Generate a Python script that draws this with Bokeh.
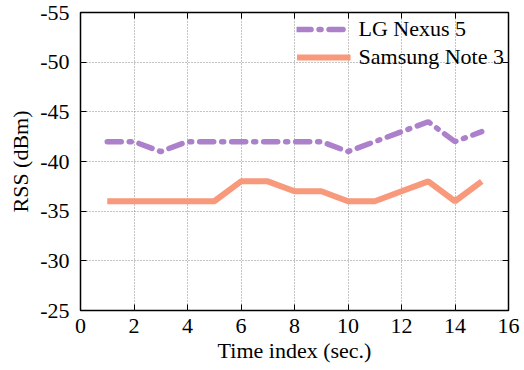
from bokeh.plotting import figure
from bokeh.models import Range1d, LinearAxis, FixedTicker, Legend, LegendItem
from bokeh.embed import file_html
from bokeh.resources import INLINE

time_idx = [1, 2, 3, 4, 5, 6, 7, 8, 9, 10, 11, 12, 13, 14, 15]
lg_nexus5 = [-42, -42, -41, -42, -42, -42, -42, -42, -42, -41, -42, -43, -44, -42, -43]
samsung_note3 = [-36, -36, -36, -36, -36, -38, -38, -37, -37, -36, -36, -37, -38, -36, -38]
x_ticks = [0, 2, 4, 6, 8, 10, 12, 14, 16]
y_ticks = [-55, -50, -45, -40, -35, -30, -25]

FONT = "Liberation Serif"
TFONT = "'Liberation Serif', 'Times New Roman', serif"
FS = "22px"

p = figure(width=524, height=370, output_backend="svg", toolbar_location=None,
           x_range=Range1d(0, 16), y_range=Range1d(-25, -55),
           min_border_left=80, min_border_right=16, min_border_top=12, min_border_bottom=60)
p.background_fill_color = "white"
p.border_fill_color = "white"
p.outline_line_color = "black"
p.outline_line_width = 1.5

for ax in (p.xaxis[0], p.yaxis[0]):
    ax.major_label_text_font = TFONT
    ax.major_label_text_font_size = FS
    ax.major_label_text_color = "black"
    ax.axis_label_text_font = FONT
    ax.axis_label_text_font_size = FS
    ax.axis_label_text_font_style = "normal"
    ax.axis_label_text_color = "black"
    ax.major_tick_in = 6
    ax.major_tick_out = 0
    ax.minor_tick_in = 0
    ax.minor_tick_out = 0
    ax.axis_line_color = None
    ax.major_tick_line_color = "black"
p.xaxis[0].ticker = FixedTicker(ticks=x_ticks)
p.yaxis[0].ticker = FixedTicker(ticks=y_ticks)
p.xaxis[0].major_label_overrides = {t: str(t) for t in x_ticks}
p.yaxis[0].major_label_overrides = {t: str(t) for t in y_ticks}
p.xaxis[0].axis_label = "Time index (sec.)"
p.yaxis[0].axis_label = "RSS (dBm)"
p.xaxis[0].major_label_standoff = 8
p.yaxis[0].major_label_standoff = 11
p.xaxis[0].axis_label_standoff = 2
p.yaxis[0].axis_label_standoff = 4

top = LinearAxis(ticker=FixedTicker(ticks=x_ticks),
                 major_label_overrides={t: "" for t in x_ticks},
                 major_tick_in=6, major_tick_out=0, minor_tick_in=0, minor_tick_out=0,
                 axis_line_color=None, major_tick_line_color="black")
right = LinearAxis(ticker=FixedTicker(ticks=y_ticks),
                   major_label_overrides={t: "" for t in y_ticks},
                   major_tick_in=6, major_tick_out=0, minor_tick_in=0, minor_tick_out=0,
                   axis_line_color=None, major_tick_line_color="black")
p.add_layout(top, "above")
p.add_layout(right, "right")
p.min_border_top = 12
p.min_border_right = 16

for g in (p.xgrid[0], p.ygrid[0]):
    g.grid_line_color = "#888888"
    g.grid_line_dash = "1 2"
    g.grid_line_width = 1
p.xgrid[0].ticker = FixedTicker(ticks=x_ticks)
p.ygrid[0].ticker = FixedTicker(ticks=y_ticks)

r1 = p.line(time_idx, lg_nexus5, line_color="#ad80cc", line_width=5.5,
            line_dash="14 8 2 8", line_cap="round")
r2 = p.line(time_idx, samsung_note3, line_color="#f8997c", line_width=6)

legend = Legend(items=[LegendItem(label="LG Nexus 5", renderers=[r1]),
                       LegendItem(label="Samsung Note 3", renderers=[r2])],
                location="top_right", orientation="vertical",
                label_text_font=FONT, label_text_font_size=FS, label_text_color="black",
                glyph_width=54, glyph_height=20, spacing=2, padding=2,
                margin=4, label_standoff=8, label_height=20,
                border_line_color=None, background_fill_alpha=0)
p.add_layout(legend, "center")

open("out.html", "w").write(file_html(p, INLINE))
